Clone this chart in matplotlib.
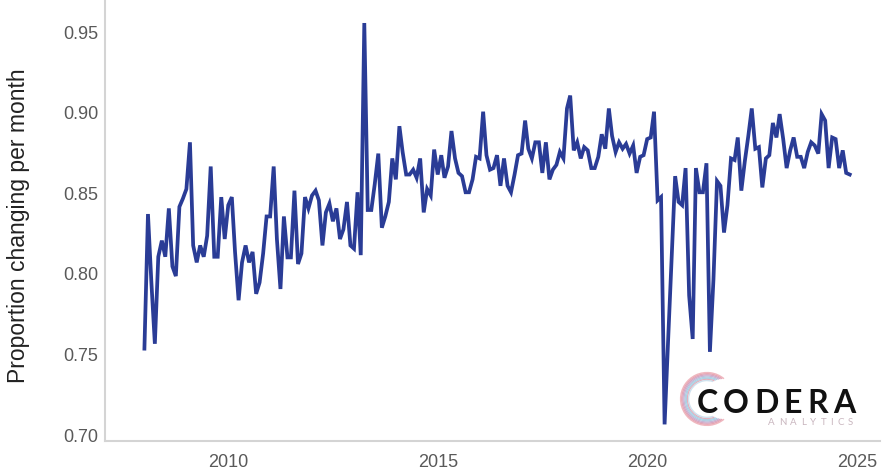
import matplotlib
matplotlib.use("Agg")
import matplotlib.pyplot as plt
import matplotlib.dates as mdates
from matplotlib.patches import Arc
import pandas as pd

# monthly share of prices changing, Jan 2008 onwards
start_month = "2008-01-01"
share = [
    0.753, 0.8365, 0.795, 0.756, 0.810, 0.820, 0.810, 0.840, 0.804, 0.798, 0.841, 0.846,
    0.852, 0.881, 0.817, 0.8065, 0.817, 0.810, 0.823, 0.866, 0.810, 0.810, 0.847, 0.821,
    0.842, 0.847, 0.813, 0.783, 0.8065, 0.817, 0.8065, 0.813, 0.787, 0.794, 0.812, 0.835,
    0.835, 0.866, 0.821, 0.790, 0.835, 0.8096, 0.8096, 0.851, 0.8055, 0.812, 0.847, 0.840,
    0.848, 0.851, 0.845, 0.817, 0.8375, 0.843, 0.832, 0.840, 0.821, 0.827, 0.844, 0.817,
    0.815, 0.850, 0.811, 0.955, 0.839, 0.839, 0.855, 0.874, 0.828, 0.835, 0.844, 0.871,
    0.858, 0.891, 0.875, 0.861, 0.861, 0.864, 0.859, 0.871, 0.8375, 0.852, 0.848, 0.8765,
    0.861, 0.873, 0.859, 0.866, 0.888, 0.871, 0.862, 0.860, 0.850, 0.850, 0.858, 0.872,
    0.871, 0.900, 0.873, 0.864, 0.865, 0.873, 0.854, 0.871, 0.854, 0.850, 0.861, 0.873,
    0.874, 0.8945, 0.877, 0.871, 0.881, 0.881, 0.862, 0.881, 0.858, 0.864, 0.867, 0.875,
    0.871, 0.902, 0.910, 0.876, 0.881, 0.871, 0.878, 0.876, 0.865, 0.865, 0.872, 0.886,
    0.877, 0.902, 0.885, 0.875, 0.881, 0.877, 0.880, 0.874, 0.879, 0.862, 0.872, 0.873,
    0.883, 0.884, 0.900, 0.845, 0.847, 0.706, 0.757, 0.808, 0.860, 0.844, 0.842, 0.865,
    0.786, 0.759, 0.865, 0.850, 0.850, 0.868, 0.751, 0.796, 0.857, 0.854, 0.825, 0.842,
    0.871, 0.870, 0.884, 0.851, 0.869, 0.885, 0.902, 0.877, 0.878, 0.853, 0.871, 0.873,
    0.893, 0.884, 0.8985, 0.883, 0.865, 0.876, 0.884, 0.872, 0.872, 0.865, 0.875, 0.881,
    0.879, 0.874, 0.8985, 0.8945, 0.865, 0.884, 0.883, 0.865, 0.876, 0.862, 0.861,
]
y_ticks = [0.70, 0.75, 0.80, 0.85, 0.90, 0.95]
ylabel = "Proportion changing per month"

months = pd.date_range(start_month, periods=len(share), freq="MS")

plt.rcParams["font.family"] = ["Liberation Sans", "DejaVu Sans"]

fig = plt.figure(figsize=(8.82, 4.77), dpi=100)
ax = fig.add_axes([0.119, 0.0734, 0.879, 0.9266])

ax.plot(months, share, color="#2a3c96", lw=2.7, solid_joinstyle="miter")

ax.set_xlim(pd.Timestamp("2007-01-22"), pd.Timestamp("2025-07-25"))
ax.set_ylim(0.6957, 0.9699)
ax.set_yticks(y_ticks)
ax.set_yticklabels([f"{t:.2f}" for t in y_ticks])
ax.xaxis.set_major_locator(mdates.YearLocator(5))
ax.xaxis.set_major_formatter(mdates.DateFormatter("%Y"))

ax.tick_params(length=0, labelsize=13, labelcolor="#595959")
ax.tick_params(axis="x", pad=9)
ax.tick_params(axis="y", pad=5)
for s in ["top", "right"]:
    ax.spines[s].set_visible(False)
for s in ["left", "bottom"]:
    ax.spines[s].set_color("#d4d4d4")
    ax.spines[s].set_linewidth(1.5)

ax.set_ylabel(ylabel, fontsize=16.5, color="#222222")
ax.yaxis.set_label_coords(-0.097, 0.49)

# logo, bottom right
lax = fig.add_axes([0.7676, 0.0985, 0.068, 0.126])
lax.set_aspect("equal")
lax.set_xlim(-1.05, 1.05)
lax.set_ylim(-1.05, 1.05)
lax.axis("off")
ring_cols = ["#f0b8c0", "#e8a8b4", "#d9a6c0", "#c8b4d4", "#b4cce0", "#a8d4e8", "#e4b0bc", "#cfe2ee"]
for k, c in enumerate(ring_cols):
    r = 1.85 - k * 0.08
    lax.add_patch(Arc((0, 0), r, r, theta1=50 + k * 3, theta2=310 - k * 3, color=c, lw=1.0))


def spaced(word, x0, x1, y, **kw):
    # spread letters so the word fills x0..x1 (pixels)
    r = fig.canvas.get_renderer()
    arts = [fig.text(0, y, ch, ha="left", va="baseline", **kw) for ch in word]
    widths = [a.get_window_extent(r).width for a in arts]
    gap = (x1 - x0 - sum(widths)) / (len(word) - 1)
    x = x0
    for a, w in zip(arts, widths):
        a.set_x(x / 882)
        x += w + gap


spaced("CODERA", 697, 855, 0.134, fontsize=23, fontweight="bold", color="#111111", family="Lato")
spaced("ANALYTICS", 768, 853, 0.109, fontsize=7, color="#c9b6bf", family="Lato")

fig.savefig("out.png", dpi=100)
